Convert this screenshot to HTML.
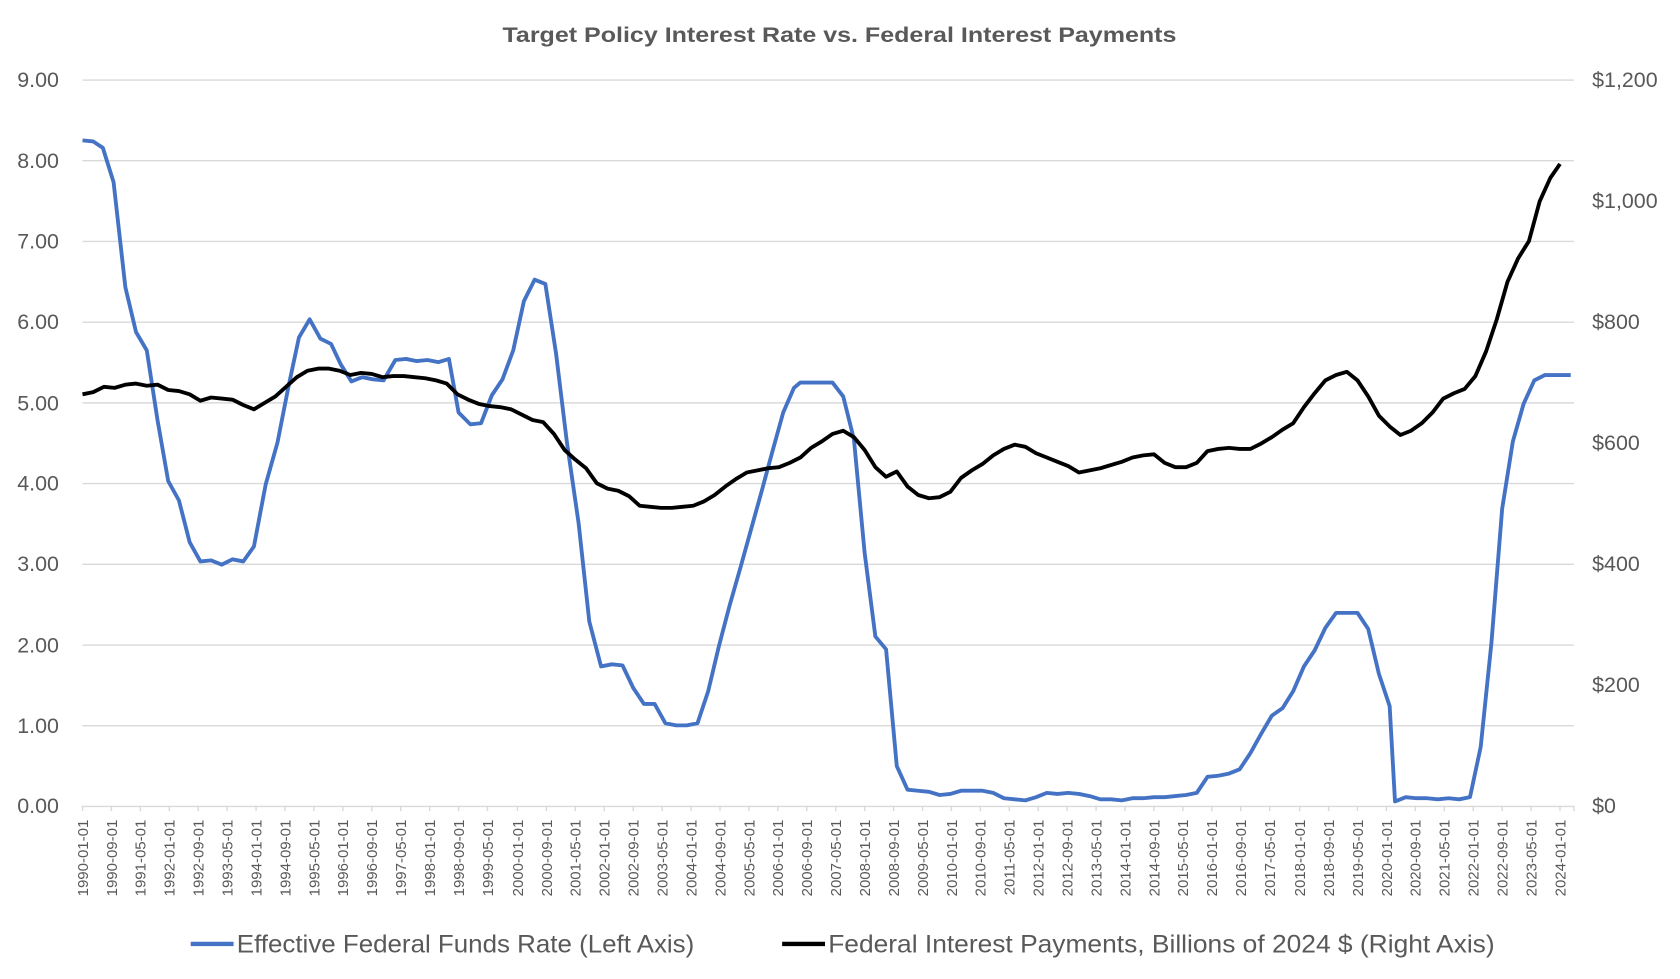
<!DOCTYPE html>
<html><head><meta charset="utf-8"><style>
html,body{margin:0;padding:0;background:#fff;}
svg{display:block;font-family:"Liberation Sans",sans-serif;}
</style></head><body>
<svg width="1680" height="979" viewBox="0 0 1568 913.7" xmlns="http://www.w3.org/2000/svg">
<rect width="1568" height="913.7" fill="#fff"/>
<text x="469" y="39" font-size="20" font-weight="bold" fill="#595959" textLength="629" lengthAdjust="spacingAndGlyphs">Target Policy Interest Rate vs. Federal Interest Payments</text>
<g stroke="#d9d9d9" stroke-width="1.3">
<line x1="77" x2="1469" y1="74.7" y2="74.7"/><line x1="77" x2="1469" y1="150" y2="150"/>
<line x1="77" x2="1469" y1="225.3" y2="225.3"/><line x1="77" x2="1469" y1="300.7" y2="300.7"/>
<line x1="77" x2="1469" y1="376" y2="376"/><line x1="77" x2="1469" y1="451.3" y2="451.3"/>
<line x1="77" x2="1469" y1="526.7" y2="526.7"/><line x1="77" x2="1469" y1="602" y2="602"/>
<line x1="77" x2="1469" y1="677.3" y2="677.3"/><line x1="77" x2="1469" y1="752.7" y2="752.7"/>
</g>
<g font-size="20" fill="#595959" text-anchor="end">
<text x="55" y="81">9.00</text><text x="55" y="157">8.00</text><text x="55" y="232">7.00</text>
<text x="55" y="307">6.00</text><text x="55" y="383">5.00</text><text x="55" y="458">4.00</text>
<text x="55" y="533">3.00</text><text x="55" y="609">2.00</text><text x="55" y="684">1.00</text><text x="55" y="759">0.00</text>
</g>
<g font-size="20" fill="#595959">
<text x="1486" y="81">$1,200</text><text x="1486" y="194">$1,000</text><text x="1486" y="307">$800</text>
<text x="1486" y="420">$600</text><text x="1486" y="533">$400</text><text x="1486" y="646">$200</text><text x="1486" y="759">$0</text>
</g>
<g font-size="14" fill="#595959" text-anchor="end">
<text transform="translate(82,765) rotate(-90)">1990-01-01</text>
<text transform="translate(109,765) rotate(-90)">1990-09-01</text>
<text transform="translate(136,765) rotate(-90)">1991-05-01</text>
<text transform="translate(163,765) rotate(-90)">1992-01-01</text>
<text transform="translate(190,765) rotate(-90)">1992-09-01</text>
<text transform="translate(217,765) rotate(-90)">1993-05-01</text>
<text transform="translate(244,765) rotate(-90)">1994-01-01</text>
<text transform="translate(271,765) rotate(-90)">1994-09-01</text>
<text transform="translate(298,765) rotate(-90)">1995-05-01</text>
<text transform="translate(325,765) rotate(-90)">1996-01-01</text>
<text transform="translate(352,765) rotate(-90)">1996-09-01</text>
<text transform="translate(379,765) rotate(-90)">1997-05-01</text>
<text transform="translate(406,765) rotate(-90)">1998-01-01</text>
<text transform="translate(433,765) rotate(-90)">1998-09-01</text>
<text transform="translate(460,765) rotate(-90)">1999-05-01</text>
<text transform="translate(488,765) rotate(-90)">2000-01-01</text>
<text transform="translate(515,765) rotate(-90)">2000-09-01</text>
<text transform="translate(542,765) rotate(-90)">2001-05-01</text>
<text transform="translate(569,765) rotate(-90)">2002-01-01</text>
<text transform="translate(596,765) rotate(-90)">2002-09-01</text>
<text transform="translate(623,765) rotate(-90)">2003-05-01</text>
<text transform="translate(650,765) rotate(-90)">2004-01-01</text>
<text transform="translate(677,765) rotate(-90)">2004-09-01</text>
<text transform="translate(704,765) rotate(-90)">2005-05-01</text>
<text transform="translate(731,765) rotate(-90)">2006-01-01</text>
<text transform="translate(758,765) rotate(-90)">2006-09-01</text>
<text transform="translate(785,765) rotate(-90)">2007-05-01</text>
<text transform="translate(812,765) rotate(-90)">2008-01-01</text>
<text transform="translate(839,765) rotate(-90)">2008-09-01</text>
<text transform="translate(866,765) rotate(-90)">2009-05-01</text>
<text transform="translate(893,765) rotate(-90)">2010-01-01</text>
<text transform="translate(920,765) rotate(-90)">2010-09-01</text>
<text transform="translate(947,765) rotate(-90)">2011-05-01</text>
<text transform="translate(974,765) rotate(-90)">2012-01-01</text>
<text transform="translate(1001,765) rotate(-90)">2012-09-01</text>
<text transform="translate(1028,765) rotate(-90)">2013-05-01</text>
<text transform="translate(1055,765) rotate(-90)">2014-01-01</text>
<text transform="translate(1082,765) rotate(-90)">2014-09-01</text>
<text transform="translate(1109,765) rotate(-90)">2015-05-01</text>
<text transform="translate(1136,765) rotate(-90)">2016-01-01</text>
<text transform="translate(1163,765) rotate(-90)">2016-09-01</text>
<text transform="translate(1190,765) rotate(-90)">2017-05-01</text>
<text transform="translate(1218,765) rotate(-90)">2018-01-01</text>
<text transform="translate(1245,765) rotate(-90)">2018-09-01</text>
<text transform="translate(1272,765) rotate(-90)">2019-05-01</text>
<text transform="translate(1299,765) rotate(-90)">2020-01-01</text>
<text transform="translate(1326,765) rotate(-90)">2020-09-01</text>
<text transform="translate(1353,765) rotate(-90)">2021-05-01</text>
<text transform="translate(1380,765) rotate(-90)">2022-01-01</text>
<text transform="translate(1407,765) rotate(-90)">2022-09-01</text>
<text transform="translate(1434,765) rotate(-90)">2023-05-01</text>
<text transform="translate(1461,765) rotate(-90)">2024-01-01</text>
</g>
<g stroke="#d9d9d9" stroke-width="1.3">
<path d="M77 752v5M104 752v5M131 752v5M158 752v5M185 752v5M212 752v5M239 752v5M266 752v5M293 752v5M320 752v5M347 752v5M374 752v5M401 752v5M428 752v5M455 752v5M483 752v5M510 752v5M537 752v5M564 752v5M591 752v5M618 752v5M645 752v5M672 752v5M699 752v5M726 752v5M753 752v5M780 752v5M807 752v5M834 752v5M861 752v5M888 752v5M915 752v5M942 752v5M969 752v5M996 752v5M1023 752v5M1050 752v5M1077 752v5M1104 752v5M1131 752v5M1158 752v5M1185 752v5M1213 752v5M1240 752v5M1267 752v5M1294 752v5M1321 752v5M1348 752v5M1375 752v5M1402 752v5M1429 752v5M1456 752v5M1469 752v5"/>
</g>
<polyline fill="none" stroke="#4472c4" stroke-width="3.6" stroke-linejoin="round" points="77,131 87,132 96,138 106,170 117,268 127,310 137,327 147,392 157,449 167,467 177,506 187,524 197,523 207,527 217,522 227,524 237,510 248,452 259,413 269,362 279,315 289,298 299,316 309,321 318,340 328,356 338,352 348,354 358,355 369,336 379,335 389,337 399,336 409,338 419,335 428,385 439,396 449,395 459,369 469,354 479,327 489,281 499,261 509,265 519,330 529,412 540,488 550,580 561,622 571,620 581,621 591,642 601,657 611,657 621,675 631,677 641,677 651,675 661,645 671,603 681,565 691,530 701,494 711,458 721,421 731,385 741,362 747,357 757,357 767,357 777,357 787,370 797,410 807,516 817,594 827,606 837,715 847,737 857,738 867,739 877,742 887,741 897,738 907,738 917,738 927,740 937,745 947,746 957,747 967,744 977,740 987,741 997,740 1007,741 1017,743 1027,746 1037,746 1047,747 1057,745 1067,745 1077,744 1087,744 1097,743 1107,742 1117,740 1127,725 1137,724 1147,722 1157,718 1167,703 1177,685 1187,668 1197,661 1207,645 1217,622 1227,607 1237,586 1247,572 1257,572 1267,572 1277,587 1287,629 1297,659 1302,748 1312,744 1322,745 1332,745 1342,746 1352,745 1362,746 1372,744 1382,697 1392,600 1402,475 1412,412 1422,377 1432,355 1442,350 1452,350 1466,350"/>
<polyline fill="none" stroke="#000" stroke-width="3.6" stroke-linejoin="round" points="77,368 87,366 97,361 107,362 117,359 127,358 137,360 147,359 157,364 167,365 177,368 187,374 197,371 207,372 217,373 227,378 237,382 247,376 257,370 267,361 277,352 287,346 297,344 307,344 317,346 327,350 337,348 347,349 357,352 367,351 377,351 387,352 397,353 407,355 417,358 427,368 437,373 447,377 457,379 467,380 477,382 487,387 497,392 507,394 517,405 527,420 537,429 547,437 557,451 567,456 577,458 587,463 597,472 607,473 617,474 627,474 637,473 647,472 657,468 667,462 677,454 687,447 697,441 707,439 717,437 727,436 737,432 747,427 757,418 767,412 777,405 787,402 797,408 807,420 817,436 827,445 837,440 847,454 857,462 867,465 877,464 887,459 897,446 907,439 917,433 927,425 937,419 947,415 957,417 967,423 977,427 987,431 997,435 1007,441 1017,439 1027,437 1037,434 1047,431 1057,427 1067,425 1077,424 1087,432 1097,436 1107,436 1117,432 1127,421 1137,419 1147,418 1157,419 1167,419 1177,414 1187,408 1197,401 1207,395 1217,380 1227,367 1237,355 1247,350 1257,347 1267,355 1277,370 1287,388 1297,398 1307,406 1317,402 1327,395 1337,385 1347,372 1357,367 1367,363 1377,351 1387,328 1397,298 1407,263 1417,241 1427,225 1437,188 1447,166 1456,153"/>
<line x1="178" x2="218" y1="881" y2="881" stroke="#4472c4" stroke-width="4"/>
<text x="221" y="889" font-size="23" fill="#595959" textLength="427" lengthAdjust="spacingAndGlyphs">Effective Federal Funds Rate (Left Axis)</text>
<line x1="730" x2="770" y1="881" y2="881" stroke="#000" stroke-width="4"/>
<text x="773" y="889" font-size="23" fill="#595959" textLength="622" lengthAdjust="spacingAndGlyphs">Federal Interest Payments, Billions of 2024 $ (Right Axis)</text>
</svg>
</body></html>
